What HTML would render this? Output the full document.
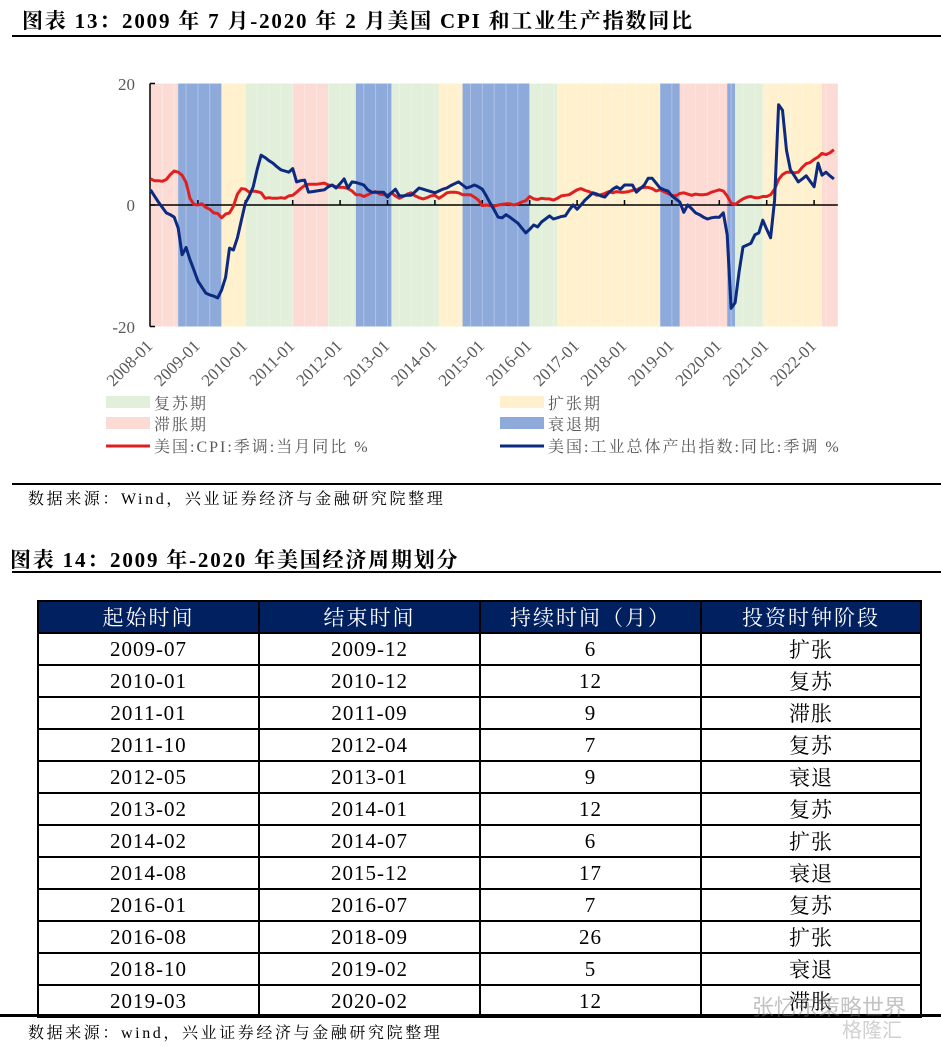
<!DOCTYPE html>
<html><head><meta charset="utf-8">
<style>
body{margin:0;background:#fff;width:941px;height:1047px;position:relative;overflow:hidden;font-family:"Liberation Serif","Noto Serif CJK SC",serif;}
.abs{position:absolute;}
.title{font-weight:bold;font-size:21px;color:#000;white-space:nowrap;letter-spacing:1.8px;}
.src{font-size:16px;color:#000;white-space:nowrap;letter-spacing:2.6px;}
table{border-collapse:collapse;position:absolute;left:37px;top:600px;width:883px;table-layout:fixed;}
td,th{border:2px solid #000;text-align:center;font-size:21px;height:29.8px;padding:0;font-weight:normal;letter-spacing:1px;}
th{background:#002060;color:#fff;height:30px;letter-spacing:2px;}
</style></head><body>
<div class="abs title" style="left:22px;top:5px;">图表 13：2009 年 7 月-2020 年 2 月美国 CPI 和工业生产指数同比</div>
<div class="abs" style="left:12px;top:35px;width:929px;height:2px;background:#000"></div>

<svg class="abs" style="left:0;top:0" width="941" height="480">
<g id="bands"></g><g id="axes"></g><g id="lines"></g><g id="xlabels"></g>
<g font-size="17" fill="#595959" font-family="Liberation Serif, Noto Serif CJK SC, serif">
<text x="135" y="90" text-anchor="end">20</text>
<text x="135" y="211" text-anchor="end">0</text>
<text x="135" y="333" text-anchor="end">-20</text>
</g>
<g font-size="16" fill="#595959" font-family="Liberation Serif, Noto Serif CJK SC, serif" letter-spacing="2">
<rect x="106" y="396" width="44" height="12" fill="#e2efda"/>
<text x="154" y="409">复苏期</text>
<rect x="106" y="417" width="44" height="12" fill="#fcdbd5"/>
<text x="154" y="430">滞胀期</text>
<line x1="106" y1="446" x2="150" y2="446" stroke="#e02020" stroke-width="3"/>
<text x="154" y="452">美国:CPI:季调:当月同比 %</text>
<rect x="500" y="396" width="44" height="12" fill="#fff1cd"/>
<text x="548" y="409">扩张期</text>
<rect x="500" y="417" width="44" height="12" fill="#8eaadb"/>
<text x="548" y="430">衰退期</text>
<line x1="500" y1="446" x2="544" y2="446" stroke="#0b2a80" stroke-width="3"/>
<text x="548" y="452">美国:工业总体产出指数:同比:季调 %</text>
</g>
</svg>

<div class="abs" style="left:12px;top:483px;width:929px;height:2px;background:#000"></div>
<div class="abs src" style="left:28px;top:486px;">数据来源：Wind，兴业证券经济与金融研究院整理</div>
<div class="abs title" style="left:10px;top:544px;">图表 14：2009 年-2020 年美国经济周期划分</div>
<div class="abs" style="left:12px;top:571px;width:929px;height:2px;background:#000"></div>

<table>
<colgroup><col style="width:221px"><col style="width:221px"><col style="width:221px"><col style="width:220px"></colgroup>
<tr><th>起始时间</th><th>结束时间</th><th>持续时间（月）</th><th>投资时钟阶段</th></tr>
<tr><td>2009-07</td><td>2009-12</td><td>6</td><td>扩张</td></tr>
<tr><td>2010-01</td><td>2010-12</td><td>12</td><td>复苏</td></tr>
<tr><td>2011-01</td><td>2011-09</td><td>9</td><td>滞胀</td></tr>
<tr><td>2011-10</td><td>2012-04</td><td>7</td><td>复苏</td></tr>
<tr><td>2012-05</td><td>2013-01</td><td>9</td><td>衰退</td></tr>
<tr><td>2013-02</td><td>2014-01</td><td>12</td><td>复苏</td></tr>
<tr><td>2014-02</td><td>2014-07</td><td>6</td><td>扩张</td></tr>
<tr><td>2014-08</td><td>2015-12</td><td>17</td><td>衰退</td></tr>
<tr><td>2016-01</td><td>2016-07</td><td>7</td><td>复苏</td></tr>
<tr><td>2016-08</td><td>2018-09</td><td>26</td><td>扩张</td></tr>
<tr><td>2018-10</td><td>2019-02</td><td>5</td><td>衰退</td></tr>
<tr><td>2019-03</td><td>2020-02</td><td>12</td><td>滞胀</td></tr>
</table>
<div class="abs" style="left:0;top:1014px;width:941px;height:3px;background:#000"></div>
<div class="abs" style="left:752px;top:990px;font-size:22px;color:rgba(120,120,120,0.45);font-family:'Liberation Sans','Noto Sans CJK SC',sans-serif">张忆东策略世界</div>
<div class="abs" style="left:842px;top:1014px;font-size:20px;color:rgba(150,150,150,0.45);font-family:'Liberation Sans','Noto Sans CJK SC',sans-serif">格隆汇</div>
<div class="abs src" style="left:28px;top:1020px;">数据来源：wind，兴业证券经济与金融研究院整理</div>

<script>
const yearLabels=["2008-01","2009-01","2010-01","2011-01","2012-01","2013-01","2014-01","2015-01","2016-01","2017-01","2018-01","2019-01","2020-01","2021-01","2022-01"];
const bandStarts=[0,7,18,24,36,45,52,61,73,79,96,103,129,134,146,148,155,170];
const bandEnds=[7,18,24,36,45,52,61,73,79,96,103,129,134,146,148,155,170,174];
const bandPhases=["stag","rec","exp","recov","stag","recov","rec","recov","exp","rec","recov","exp","rec","stag","rec","recov","exp","stag"];
const cpi=[4.3,4.0,4.0,3.9,4.2,5.0,5.6,5.4,4.9,3.7,1.1,0.1,
0.0,0.2,-0.4,-0.7,-1.3,-1.4,-2.1,-1.5,-1.3,-0.2,1.8,2.7,
2.6,2.1,2.3,2.2,2.0,1.1,1.2,1.1,1.1,1.2,1.1,1.5,
1.6,2.1,2.7,3.2,3.4,3.4,3.4,3.5,3.6,3.3,3.2,3.0,
2.9,2.9,2.7,2.3,1.7,1.7,1.4,1.7,2.0,2.2,1.8,1.7,
1.6,2.0,1.5,1.1,1.4,1.8,2.0,1.5,1.2,1.0,1.2,1.5,
1.6,1.1,1.5,2.0,2.1,2.1,2.0,1.7,1.7,1.7,1.3,0.8,
-0.1,0.0,-0.1,-0.2,0.0,0.1,0.2,0.2,0.0,0.2,0.5,0.7,
1.4,1.0,0.9,1.1,1.0,1.0,0.8,1.1,1.5,1.6,1.7,2.1,
2.5,2.7,2.4,2.2,1.9,1.6,1.7,1.9,2.2,2.0,2.2,2.1,
2.1,2.2,2.4,2.5,2.8,2.9,2.9,2.7,2.3,2.5,2.2,1.9,
1.6,1.5,1.9,2.0,1.8,1.6,1.8,1.7,1.7,1.8,2.1,2.3,
2.5,2.3,1.5,0.3,0.1,0.6,1.0,1.3,1.4,1.2,1.2,1.4,
1.4,1.7,2.6,4.2,5.0,5.4,5.4,5.3,5.4,6.2,6.8,7.0,
7.5,7.9,8.5,8.3,8.6,9.1];
const ip=[2.5,1.5,0.5,-0.4,-1.3,-1.6,-2.0,-3.8,-8.2,-7.0,-9.0,-10.7,
-12.5,-13.5,-14.5,-14.8,-15.0,-15.3,-14.0,-11.9,-7.1,-7.4,-5.4,-2.5,
0.3,1.5,3.0,5.8,8.2,7.8,7.3,6.9,6.3,5.8,5.6,5.4,
6.0,3.8,4.0,4.1,2.1,2.2,2.3,2.4,2.5,3.0,3.3,2.8,
3.5,4.3,2.8,3.8,3.7,3.5,3.3,2.5,2.1,2.1,2.1,2.1,
1.3,2.0,2.6,1.5,1.5,1.6,1.6,2.2,2.8,2.6,2.4,2.2,
2.0,2.3,2.6,2.8,3.2,3.5,3.8,3.3,2.8,3.0,3.3,3.0,
2.6,1.5,0.3,-0.8,-2.0,-2.1,-1.6,-2.0,-2.5,-3.0,-3.8,-4.6,
-4.0,-3.3,-3.6,-2.8,-2.3,-1.8,-2.3,-2.1,-1.9,-1.8,-0.8,0.0,
-0.7,0.0,0.8,1.4,2.0,1.8,1.5,1.3,2.0,2.6,3.0,2.6,
3.3,3.3,3.3,2.1,2.7,3.3,4.4,4.4,3.6,2.8,2.5,2.3,
1.5,1.0,0.5,-1.2,0.0,-0.6,-1.3,-1.6,-2.0,-2.3,-2.1,-2.0,
-2.0,-1.3,-4.9,-17.0,-16.1,-11.0,-6.9,-6.6,-6.3,-4.9,-4.6,-2.5,
-4.0,-5.4,0.8,16.5,15.6,9.0,5.8,4.8,3.8,4.3,4.8,3.9,
3.0,6.9,4.9,5.4,4.8,4.3];
const yTicks=[20,0,-20];

const NS="http://www.w3.org/2000/svg";
const X0=150.5, MW=3.95;
const xs=m=>X0+m*MW;
const ys=v=>205-v*6.075;
const colors={stag:"#fcdbd5",rec:"#8eaadb",exp:"#fff1cd",recov:"#e2efda"};
function mk(tag,attrs,parent){const e=document.createElementNS(NS,tag);for(const k in attrs)e.setAttribute(k,attrs[k]);parent.appendChild(e);return e;}
const bands=document.getElementById('bands');
bandStarts.forEach((s,i)=>{
  const r=mk('rect',{x:xs(s),y:ys(20),width:xs(bandEnds[i])-xs(s),height:ys(-20)-ys(20),fill:colors[bandPhases[i]]},bands);
  
  
});
for(let m=3;m<174;m+=3){mk('line',{x1:xs(m),x2:xs(m),y1:ys(20),y2:ys(-20),stroke:"#fff","stroke-opacity":0.35,"stroke-width":0.8},bands);}
const axes=document.getElementById('axes');
const ya=mk('line',{x1:150,x2:150,y1:ys(20),y2:ys(-20),stroke:"#000","stroke-width":1.5},axes);


yTicks.forEach(v=>mk('line',{x1:150,x2:155,y1:ys(v),y2:ys(v),stroke:"#000","stroke-width":1.5},axes));
const xa=mk('line',{x1:150,x2:xs(174),y1:ys(0),y2:ys(0),stroke:"#000","stroke-width":1.5},axes);


const xl=document.getElementById('xlabels');
yearLabels.forEach((lab,i)=>{
  const x=xs(i*12);
  if(i>0)mk('line',{x1:x,x2:x,y1:ys(0),y2:ys(0)-5,stroke:"#000","stroke-width":1.5},axes);
  const t=mk('text',{x:x+3,y:347,"text-anchor":"end",transform:`rotate(-45 ${x+3} 347)`,"font-size":17,fill:"#595959","font-family":"Liberation Serif, serif"},xl);
  t.textContent=lab;
  
  
});
const lines=document.getElementById('lines');
function path(arr,col,name){
  const d=arr.map((v,i)=>(i?'L':'M')+xs(i).toFixed(1)+' '+ys(v).toFixed(1)).join(' ');
  const p=mk('path',{d:d,fill:"none",stroke:col,"stroke-width":3,"stroke-linejoin":"round"},lines);
  
  
}
path(cpi,"#e02020","cpi-line");
path(ip,"#0b2a80","industrial-production-line");
</script>
</body></html>
